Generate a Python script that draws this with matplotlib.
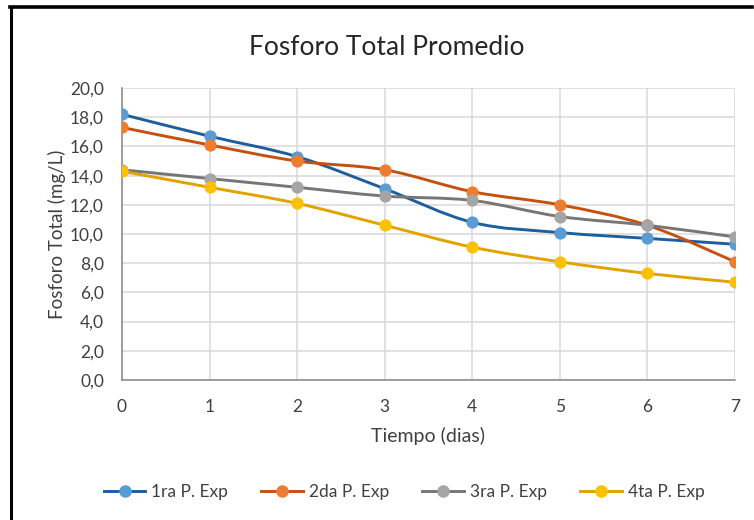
import matplotlib
matplotlib.use("Agg")
import matplotlib.pyplot as plt
from matplotlib.path import Path
from matplotlib.patches import PathPatch
from matplotlib.lines import Line2D
import numpy as np

dias = [0, 1, 2, 3, 4, 5, 6, 7]
serie_1ra = [18.2, 16.7, 15.3, 13.1, 10.8, 10.1, 9.7, 9.3]
serie_2da = [17.3, 16.1, 15.0, 14.4, 12.9, 12.0, 10.6, 8.1]
serie_3ra = [14.4, 13.8, 13.2, 12.6, 12.3, 11.2, 10.6, 9.8]
serie_4ta = [14.3, 13.2, 12.1, 10.6, 9.1, 8.1, 7.3, 6.7]
nombres = ["1ra P. Exp", "2da P. Exp", "3ra P. Exp", "4ta P. Exp"]
yticks = [0, 2, 4, 6, 8, 10, 12, 14, 16, 18, 20]
ytick_labels = ["0,0", "2,0", "4,0", "6,0", "8,0", "10,0", "12,0", "14,0", "16,0", "18,0", "20,0"]

line_colors = ["#1F5E9C", "#C4510F", "#767676", "#E2A300"]
marker_colors = ["#5B9BD5", "#ED7D31", "#A5A5A5", "#FFC000"]

plt.rcParams['font.family'] = ['Lato', 'DejaVu Sans']

fig = plt.figure(figsize=(7.54, 5.20), dpi=100)
ax = fig.add_axes([0.1618, 0.2692, 0.8130, 0.5615])


def smooth_path(x, y):
    pts = np.column_stack([x, y]).astype(float)
    n = len(pts)
    verts = [tuple(pts[0])]
    codes = [Path.MOVETO]
    for i in range(n - 1):
        p0 = pts[i - 1] if i > 0 else pts[i]
        p1 = pts[i]
        p2 = pts[i + 1]
        p3 = pts[i + 2] if i + 2 < n else pts[i + 1]
        c1 = p1 + (p2 - p0) / 6.0
        c2 = p2 - (p3 - p1) / 6.0
        verts += [tuple(c1), tuple(c2), tuple(p2)]
        codes += [Path.CURVE4, Path.CURVE4, Path.CURVE4]
    return Path(verts, codes)


series = [serie_1ra, serie_2da, serie_3ra, serie_4ta]
handles = []
for k, s in enumerate(series):
    patch = PathPatch(smooth_path(dias, s), facecolor='none',
                      edgecolor=line_colors[k], lw=2.1, zorder=3 + k,
                      capstyle='round', joinstyle='round')
    ax.add_patch(patch)
    ax.plot(dias, s, linestyle='none', marker='o', markersize=8,
            markerfacecolor=marker_colors[k], markeredgecolor=marker_colors[k],
            markeredgewidth=0.8, zorder=3 + k)
    handles.append(Line2D([0], [0], color=line_colors[k], lw=2.1, marker='o',
                          markersize=8, markerfacecolor=marker_colors[k],
                          markeredgecolor=marker_colors[k]))

ax.set_xlim(0, 7)
ax.set_ylim(0, 20)
ax.set_xticks(dias)
ax.set_xticklabels([str(d) for d in dias], fontsize=12.5, color='#404040')
ax.set_yticks(yticks)
ax.set_yticklabels(ytick_labels, fontsize=12.5, color='#404040')
ax.tick_params(axis='both', length=0)
ax.tick_params(axis='y', pad=13)
ax.tick_params(axis='x', pad=14)

ax.grid(True, color='#D9D9D9', lw=1.1)
ax.set_axisbelow(True)
for side in ['top', 'right']:
    ax.spines[side].set_visible(False)
ax.spines['left'].set_color('#868686')
ax.spines['bottom'].set_color('#868686')
ax.spines['left'].set_linewidth(1.1)
ax.spines['bottom'].set_linewidth(1.1)

ax.set_xlabel("Tiempo (dias)", fontsize=14, color='#404040', labelpad=8)
ax.set_ylabel("Fosforo Total (mg/L)", fontsize=13.5, color='#404040', labelpad=3)

fig.text(0.513, 0.909, "Fosforo Total Promedio", ha='center', va='center',
         fontsize=19, color='#262626')

fig.legend(handles, nombres, loc='center', bbox_to_anchor=(0.536, 0.053),
           ncol=4, frameon=False, fontsize=12.5, handlelength=2.4,
           handletextpad=0.35, columnspacing=1.9, labelcolor='#404040')

# frame border of the chart area
fig.add_artist(Line2D([0.0145, 0.0145], [0.0, 0.986], transform=fig.transFigure,
                      color='black', lw=2.2))
fig.add_artist(Line2D([0.0135, 0.998], [0.986, 0.986], transform=fig.transFigure,
                      color='black', lw=2.6))

fig.savefig("out.png", dpi=100, facecolor='white')
